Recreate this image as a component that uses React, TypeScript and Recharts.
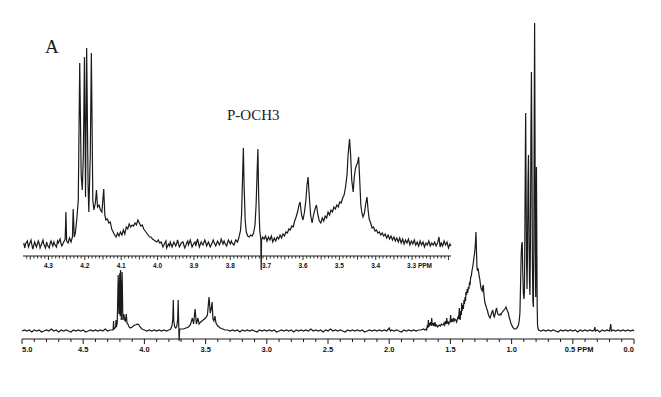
import React from "react";
import { LineChart, Line, XAxis, YAxis, ReferenceLine } from "recharts";

// ---------- Main spectrum (ppm, intensity) ----------
const MAIN_LEFT: [number, number][] = [
  [5.0, 0], [4.98, 1], [4.96, 0], [4.94, 1], [4.92, -1], [4.9, 1], [4.88, 0], [4.86, 1], [4.84, -1], [4.82, 0],
  [4.8, 1], [4.78, 0], [4.76, 2], [4.74, 0], [4.72, 1], [4.7, -1], [4.68, 1], [4.66, 0], [4.64, 1], [4.62, 0],
  [4.6, -1], [4.58, 1], [4.56, 0], [4.54, 1], [4.52, 0], [4.5, 1], [4.48, -1], [4.46, 0], [4.44, 1], [4.42, 0],
  [4.4, 1], [4.38, 0], [4.36, 1], [4.34, 0], [4.32, 2], [4.3, 0], [4.28, 1], [4.26, 1],
];
const MAIN_CH2O: [number, number][] = [
  [4.255, 2], [4.252, 10], [4.249, 2], [4.24, 3], [4.235, 4], [4.232, 11], [4.229, 4], [4.222, 8],
  [4.214, 56], [4.208, 17], [4.201, 58], [4.198, 15], [4.195, 61], [4.189, 11], [4.182, 59], [4.176, 11],
  [4.168, 17], [4.162, 11], [4.155, 10], [4.148, 17], [4.142, 8], [4.135, 7], [4.125, 4], [4.115, 3],
  [4.1, 4], [4.09, 5], [4.08, 6], [4.07, 6], [4.06, 7], [4.054, 7], [4.045, 6], [4.035, 4], [4.02, 2], [4.0, 1],
];
const MAIN_MID: [number, number][] = [
  [3.98, 0], [3.96, 1], [3.94, 0], [3.92, 1], [3.9, 0], [3.88, 1], [3.86, 0], [3.84, 1], [3.82, 0], [3.8, 1],
  [3.785, 2], [3.775, 5], [3.768, 12], [3.764, 31], [3.76, 10], [3.752, 4], [3.744, 3], [3.735, 5], [3.728, 12],
  [3.724, 31], [3.72, 8], [3.716, -10], [3.712, 2], [3.7, 2], [3.68, 2], [3.66, 3], [3.64, 4], [3.625, 6],
  [3.608, 13], [3.598, 7], [3.586, 22], [3.575, 7], [3.563, 13], [3.553, 7], [3.54, 9], [3.52, 11], [3.5, 13],
  [3.485, 16], [3.472, 34], [3.462, 18], [3.454, 22], [3.447, 29], [3.44, 12], [3.432, 10], [3.424, 15],
  [3.415, 8], [3.4, 5], [3.38, 3], [3.36, 2],
];
const MAIN_FLAT: [number, number][] = [
  [3.34, 1], [3.32, 1], [3.3, 0], [3.28, 1], [3.26, 0], [3.24, 1], [3.22, -1], [3.2, 1], [3.18, 0], [3.16, 1],
  [3.14, 0], [3.12, 1], [3.1, 0], [3.08, -1], [3.06, 1], [3.04, 0], [3.02, 1], [3.0, 0], [2.98, 1], [2.96, 0],
  [2.94, 1], [2.92, -1], [2.9, 0], [2.88, 1], [2.86, 0], [2.84, 1], [2.82, 0], [2.8, 1], [2.78, -1], [2.76, 1],
  [2.74, 0], [2.72, 1], [2.7, 0], [2.68, 1], [2.66, 0], [2.64, 2], [2.62, 0], [2.6, 1], [2.58, 0], [2.56, 1],
  [2.54, -1], [2.52, 1], [2.5, 0], [2.48, 2], [2.46, 0], [2.44, 1], [2.42, 0], [2.4, 1], [2.38, 0], [2.36, -1],
  [2.34, 1], [2.32, 0], [2.3, 1], [2.28, 0], [2.26, 1], [2.24, 0], [2.22, 1], [2.2, -1], [2.18, 0], [2.16, 1],
  [2.14, 0], [2.12, 1], [2.1, 0], [2.08, 1], [2.06, 0], [2.04, 1], [2.02, 0], [2.0, 3], [1.99, 0], [1.98, 1],
  [1.96, 0], [1.94, 1], [1.92, 0], [1.9, -1], [1.88, 1], [1.86, 0], [1.84, 1], [1.82, 0], [1.8, 1], [1.78, 0],
  [1.76, 1], [1.74, 1], [1.72, 2],
];
const MAIN_ALKYL: [number, number][] = [
  [1.71, 1], [1.7, 2], [1.694, 1], [1.688, 6], [1.684, 3], [1.68, 11], [1.676, 4], [1.671, 8], [1.667, 6],
  [1.662, 9], [1.657, 5], [1.653, 13], [1.648, 6], [1.644, 8], [1.64, 5], [1.635, 7], [1.63, 6], [1.626, 9],
  [1.62, 5], [1.612, 6], [1.605, 4], [1.598, 5], [1.59, 6], [1.582, 5], [1.574, 7], [1.566, 6], [1.558, 6],
  [1.552, 8], [1.546, 6], [1.54, 10], [1.535, 7], [1.53, 13], [1.525, 8], [1.518, 9], [1.513, 7], [1.509, 8],
  [1.503, 9], [1.498, 16], [1.494, 9], [1.488, 11], [1.482, 10], [1.476, 13], [1.47, 10], [1.463, 12],
  [1.456, 11], [1.449, 9], [1.443, 12], [1.437, 14], [1.432, 12], [1.427, 23], [1.423, 13], [1.42, 11],
  [1.415, 20], [1.41, 16], [1.408, 28], [1.404, 20], [1.399, 26], [1.394, 22], [1.389, 31], [1.385, 27],
  [1.38, 34], [1.376, 30], [1.373, 39], [1.368, 36], [1.363, 42], [1.358, 38], [1.354, 44], [1.349, 42],
  [1.344, 48], [1.339, 47], [1.334, 54], [1.329, 55], [1.324, 60], [1.318, 64], [1.313, 68], [1.307, 74],
  [1.302, 78], [1.297, 85], [1.291, 99], [1.287, 80], [1.283, 64], [1.279, 60], [1.275, 63], [1.272, 61],
  [1.268, 58], [1.264, 54], [1.26, 52], [1.256, 48], [1.252, 44], [1.248, 42], [1.244, 41], [1.24, 40],
  [1.236, 44], [1.231, 46], [1.227, 38], [1.222, 32], [1.217, 28], [1.212, 26], [1.207, 24], [1.202, 22],
  [1.198, 21], [1.193, 18], [1.188, 16], [1.182, 14], [1.176, 13], [1.171, 15], [1.166, 17], [1.16, 19],
  [1.154, 21], [1.149, 17], [1.145, 15], [1.141, 14], [1.137, 16], [1.133, 18], [1.128, 21], [1.122, 23],
  [1.117, 19], [1.112, 17], [1.107, 16], [1.1, 16], [1.094, 17], [1.088, 16], [1.081, 18], [1.075, 19],
  [1.068, 20], [1.062, 21], [1.056, 22], [1.05, 23], [1.046, 24], [1.04, 22], [1.034, 20], [1.027, 18],
  [1.02, 14], [1.013, 11], [1.006, 8], [0.999, 6], [0.992, 4], [0.985, 3], [0.978, 2], [0.972, 2], [0.965, 2],
  [0.958, 3], [0.951, 4], [0.944, 6], [0.938, 10],
];
const MAIN_CH3: [number, number][] = [
  [0.932, 18], [0.927, 45], [0.922, 75], [0.918, 86], [0.913, 89], [0.909, 60], [0.904, 38], [0.899, 32],
  [0.895, 40], [0.891, 110], [0.887, 190], [0.885, 218], [0.882, 150], [0.878, 70], [0.874, 42], [0.87, 80],
  [0.866, 150], [0.862, 176], [0.858, 110], [0.854, 50], [0.85, 36], [0.846, 90], [0.842, 200], [0.838, 259],
  [0.834, 180], [0.83, 70], [0.826, 30], [0.822, 24], [0.818, 90], [0.815, 220], [0.812, 308], [0.809, 210],
  [0.806, 80], [0.803, 34], [0.8, 100], [0.797, 164], [0.794, 90], [0.791, 25], [0.788, 6], [0.785, 3], [0.78, 1],
];
const MAIN_RIGHT: [number, number][] = [
  [0.76, 0], [0.74, 1], [0.72, 0], [0.7, 1], [0.68, 0], [0.66, 1], [0.64, 0], [0.62, -1], [0.6, 1], [0.58, 0],
  [0.56, 1], [0.54, 0], [0.52, 1], [0.5, 0], [0.48, 1], [0.46, -1], [0.44, 1], [0.42, 0], [0.4, 1], [0.38, 0],
  [0.36, 1], [0.34, 0], [0.325, 1], [0.32, 4], [0.315, 0], [0.3, 1], [0.28, -1], [0.26, 1], [0.24, 0], [0.22, 1],
  [0.2, 0], [0.19, 7], [0.185, 0], [0.17, 1], [0.15, 0], [0.13, 1], [0.11, 0], [0.09, 1], [0.07, 0], [0.05, 1],
  [0.03, 0], [0.01, 1], [0.0, 0],
];

// ---------- Inset (expanded 4.37 - 3.19 ppm) ----------
const INSET_LEFT: [number, number][] = [
  [4.368, 2], [4.365, -3], [4.363, 1], [4.358, 4], [4.355, -2], [4.353, 0], [4.348, 5], [4.345, -1],
  [4.343, -4], [4.338, 3], [4.335, 0], [4.333, -2], [4.328, 4], [4.325, 1], [4.323, -3], [4.318, 2],
  [4.315, 5], [4.313, 1], [4.308, -3], [4.305, 3], [4.303, 0], [4.298, -3], [4.295, 2], [4.293, 4],
  [4.288, -1], [4.285, 3], [4.283, 1], [4.278, -2], [4.275, 4], [4.273, 2], [4.268, 6], [4.265, 1], [4.263, -1], [4.258, 3],
];
const INSET_CH2O: [number, number][] = [
  [4.254, 6], [4.252, 33], [4.25, 4], [4.246, 2], [4.242, 7], [4.238, 3], [4.234, 8], [4.232, 36], [4.229, 8],
  [4.226, 12], [4.222, 26], [4.218, 45], [4.214, 182], [4.21, 70], [4.207, 55], [4.204, 90], [4.201, 188],
  [4.198, 48], [4.195, 197], [4.191, 60], [4.189, 33], [4.185, 90], [4.182, 192], [4.178, 45], [4.175, 35],
  [4.171, 42], [4.168, 55], [4.165, 38], [4.161, 40], [4.157, 35], [4.153, 33], [4.148, 56], [4.145, 30],
  [4.142, 25], [4.138, 26], [4.134, 22], [4.13, 23], [4.126, 16], [4.122, 13], [4.118, 10], [4.114, 8],
  [4.11, 12], [4.106, 9], [4.102, 13], [4.098, 10], [4.094, 15], [4.09, 11], [4.086, 18], [4.082, 16],
  [4.078, 21], [4.074, 18], [4.07, 20], [4.066, 19], [4.062, 22], [4.058, 20], [4.054, 25], [4.05, 22],
  [4.046, 19], [4.042, 20], [4.038, 16], [4.034, 14], [4.03, 12], [4.026, 10], [4.022, 8], [4.018, 8],
  [4.014, 6], [4.01, 5], [4.006, 4], [4.002, 3], [3.998, 5], [3.994, 2],
];
const INSET_BASE: [number, number][] = [
  [3.99, 3], [3.987, 0], [3.985, -2], [3.98, 2], [3.977, 4], [3.975, -3], [3.97, 1], [3.967, -1], [3.965, 3],
  [3.96, -2], [3.957, 1], [3.955, 3], [3.95, -1], [3.947, 2], [3.945, 5], [3.94, -2], [3.937, 0], [3.935, 2],
  [3.93, 3], [3.927, -1], [3.925, -3], [3.92, 2], [3.917, 4], [3.915, 0], [3.91, 5], [3.907, 1], [3.905, -2],
  [3.9, 2], [3.897, 3], [3.895, -1], [3.89, 6], [3.887, 1], [3.885, -2], [3.88, 3], [3.877, 1], [3.875, 0],
  [3.87, 5], [3.867, 2], [3.865, -1], [3.86, 3], [3.857, 0], [3.855, -2], [3.85, 2], [3.847, 5], [3.845, 3],
  [3.84, -1], [3.837, 2], [3.835, 4], [3.83, 0], [3.827, 3], [3.825, 6], [3.82, 1], [3.817, 4], [3.815, 2],
  [3.81, -1], [3.807, 3], [3.805, 5], [3.8, 1], [3.797, 4], [3.795, 2], [3.79, 0], [3.787, 3], [3.785, 5], [3.78, 3],
];
const INSET_OCH3: [number, number][] = [
  [3.776, 8], [3.772, 14], [3.769, 30], [3.766, 70], [3.764, 97], [3.762, 60], [3.759, 25], [3.756, 13],
  [3.752, 9], [3.748, 8], [3.744, 10], [3.74, 9], [3.736, 12], [3.732, 20], [3.729, 40], [3.726, 75],
  [3.724, 96], [3.722, 50], [3.719, 15], [3.716, 6], [3.715, -25], [3.714, 5], [3.711, 8], [3.707, 6],
  [3.703, 9], [3.699, 4], [3.695, 8], [3.691, 5], [3.687, 9], [3.683, 3], [3.679, 7], [3.675, 4], [3.671, 8],
  [3.667, 6], [3.663, 10], [3.659, 7], [3.655, 11], [3.651, 9], [3.647, 13], [3.643, 12], [3.639, 16],
];
const INSET_MULT: [number, number][] = [
  [3.635, 15], [3.631, 19], [3.627, 18], [3.623, 24], [3.619, 28], [3.615, 33], [3.611, 40], [3.608, 43],
  [3.604, 30], [3.6, 25], [3.596, 33], [3.592, 45], [3.589, 60], [3.586, 68], [3.583, 50], [3.579, 30],
  [3.575, 22], [3.571, 30], [3.567, 36], [3.563, 40], [3.559, 30], [3.555, 24], [3.551, 22], [3.547, 27],
  [3.543, 24], [3.539, 29], [3.535, 27], [3.531, 33], [3.527, 30], [3.523, 35], [3.519, 33], [3.515, 38],
  [3.511, 36], [3.507, 40], [3.503, 38], [3.499, 43], [3.495, 42], [3.491, 47], [3.487, 50], [3.483, 58],
  [3.479, 70], [3.476, 90], [3.472, 106], [3.469, 90], [3.466, 65], [3.462, 53], [3.459, 68], [3.456, 76],
  [3.453, 80], [3.45, 82], [3.447, 88], [3.444, 65], [3.441, 40], [3.438, 32], [3.435, 28], [3.431, 32],
  [3.428, 40], [3.424, 48], [3.421, 35], [3.418, 26], [3.414, 22], [3.41, 17], [3.406, 18], [3.402, 14],
];
const INSET_RIGHT: [number, number][] = [
  [3.398, 15], [3.394, 12], [3.39, 13], [3.386, 10], [3.382, 12], [3.378, 9], [3.374, 11], [3.37, 7],
  [3.366, 10], [3.362, 6], [3.358, 9], [3.354, 5], [3.35, 8], [3.346, 4], [3.342, 7], [3.338, 3], [3.334, 7],
  [3.33, 2], [3.326, 6], [3.322, 1], [3.318, 5], [3.314, 2], [3.31, 6], [3.306, 0], [3.302, 4], [3.298, 1],
  [3.294, 5], [3.29, 0], [3.286, 3], [3.282, -1], [3.278, 4], [3.274, 0], [3.27, 3], [3.266, -2], [3.262, 2],
  [3.258, 0], [3.254, 4], [3.25, -1], [3.246, 2], [3.242, 0], [3.238, 3], [3.234, -1], [3.23, 2], [3.226, 8],
  [3.223, -2], [3.22, 2], [3.216, -1], [3.212, 4], [3.208, 0], [3.204, 3], [3.2, -3], [3.196, 1], [3.193, -1],
];

// ---------- Axes ----------
const MAIN_DOMAIN: [number, number] = [0, 5];
const MAIN_TICKS = [
  5.0, 4.9, 4.8, 4.7, 4.6, 4.5, 4.4, 4.3, 4.2, 4.1, 4.0, 3.9, 3.8, 3.7, 3.6, 3.5, 3.4, 3.3, 3.2, 3.1, 3.0,
  2.9, 2.8, 2.7, 2.6, 2.5, 2.4, 2.3, 2.2, 2.1, 2.0, 1.9, 1.8, 1.7, 1.6, 1.5, 1.4, 1.3, 1.2, 1.1, 1.0,
  0.9, 0.8, 0.7, 0.6, 0.5, 0.4, 0.3, 0.2, 0.1, 0.0,
];
const MAIN_LABELS = ["5.0", "4.5", "4.0", "3.5", "3.0", "2.5", "2.0", "1.5", "1.0", "0.5", "0.0"];
const INSET_DOMAIN: [number, number] = [3.193, 4.37];
const INSET_LABELS = ["4.3", "4.2", "4.1", "4.0", "3.9", "3.8", "3.7", "3.6", "3.5", "3.4", "3.3"];
const INSET_TICKS: number[] = [];
for (let i = 436; i >= 320; i--) INSET_TICKS.push(i / 100);

const toRows = (segs: [number, number][][]) =>
  segs.flat().map(([ppm, v]) => ({ ppm, v }));

const mainData = toRows([MAIN_LEFT, MAIN_CH2O, MAIN_MID, MAIN_FLAT, MAIN_ALKYL, MAIN_CH3, MAIN_RIGHT]);
const insetData = toRows([INSET_LEFT, INSET_CH2O, INSET_BASE, INSET_OCH3, INSET_MULT, INSET_RIGHT]);

const INK = "#1a1a1a";
const TICK_FONT = "'Liberation Sans', Arial, sans-serif";

// main: plot bottom sits 8 units below the drawn axis line (room for the negative artefact)
const MAIN_AXIS_LEVEL = -8;
const MAIN_AXIS_GAP = 8;
const INSET_AXIS_LEVEL = -11;
const INSET_AXIS_GAP = 19;

const MainTick = (props: any) => {
  const { x, y, payload } = props;
  const v: number = payload.value;
  const ay = y - MAIN_AXIS_GAP;
  const s = v.toFixed(1);
  const labeled = MAIN_LABELS.includes(s);
  let anchor: "start" | "middle" | "end" = "middle";
  if (s === "5.0") anchor = "start";
  if (s === "0.0") anchor = "end";
  return (
    <g>
      <line x1={x} x2={x} y1={ay} y2={ay + (labeled ? 5 : 3)} stroke={INK} strokeWidth={1} />
      {labeled && (
        <text
          x={s === "0.5" ? x - 8 : x}
          y={ay + 13}
          textAnchor={s === "0.5" ? "start" : anchor}
          fontFamily={TICK_FONT}
          fontWeight="bold"
          fontSize={7.5}
          fill="#111"
        >
          {s === "0.5" ? "0.5 PPM" : s}
        </text>
      )}
    </g>
  );
};

const InsetTick = (props: any) => {
  const { x, y, payload } = props;
  const v: number = payload.value;
  const ay = y - INSET_AXIS_GAP;
  const hundredths = Math.round(v * 100);
  const s = (hundredths / 100).toFixed(1);
  const labeled = hundredths % 10 === 0 && INSET_LABELS.includes(s);
  const len = hundredths % 10 === 0 ? 4 : hundredths % 5 === 0 ? 3.5 : 2.5;
  return (
    <g>
      <line x1={x} x2={x} y1={ay} y2={ay + len} stroke={INK} strokeWidth={0.9} />
      {labeled && (
        <text
          x={s === "3.3" ? x - 5 : x}
          y={ay + 12}
          textAnchor={s === "3.3" ? "start" : "middle"}
          fontFamily={TICK_FONT}
          fontWeight="bold"
          fontSize={6.5}
          fill="#111"
        >
          {s === "3.3" ? "3.3 PPM" : s}
        </text>
      )}
    </g>
  );
};

export default function App() {
  return (
    <div style={{ position: "absolute", left: 0, top: 0, width: 661, height: 397, background: "#fff" }}>
      <div style={{ position: "absolute", left: 0, top: 0 }}>
        <LineChart width={661} height={397} data={mainData} margin={{ top: 19, right: 27, bottom: 20, left: 22 }}>
          <XAxis
            type="number"
            dataKey="ppm"
            domain={MAIN_DOMAIN}
            reversed
            ticks={MAIN_TICKS}
            interval={0}
            axisLine={false}
            tickLine={false}
            tickSize={0}
            tickMargin={0}
            height={30}
            tick={(p: any) => <MainTick {...p} />}
          />
          <YAxis type="number" domain={[-16, 312]} hide />
          <ReferenceLine y={MAIN_AXIS_LEVEL} stroke={INK} strokeWidth={1.1} ifOverflow="visible" />
          <Line
            type="linear"
            dataKey="v"
            stroke={INK}
            strokeWidth={1.2}
            dot={false}
            activeDot={false}
            isAnimationActive={false}
          />
        </LineChart>
      </div>
      <div style={{ position: "absolute", left: 0, top: 0 }}>
        <LineChart width={661} height={397} data={insetData} margin={{ top: 40, right: 210, bottom: 92, left: 23 }}>
          <XAxis
            type="number"
            dataKey="ppm"
            domain={INSET_DOMAIN}
            reversed
            ticks={INSET_TICKS}
            interval={0}
            axisLine={false}
            tickLine={false}
            tickSize={0}
            tickMargin={0}
            height={30}
            tick={(p: any) => <InsetTick {...p} />}
          />
          <YAxis type="number" domain={[-30, 205]} hide />
          <ReferenceLine y={INSET_AXIS_LEVEL} stroke={INK} strokeWidth={1.1} ifOverflow="visible" />
          <Line
            type="linear"
            dataKey="v"
            stroke={INK}
            strokeWidth={1.2}
            dot={false}
            activeDot={false}
            isAnimationActive={false}
          />
        </LineChart>
      </div>
      <svg width={661} height={397} style={{ position: "absolute", left: 0, top: 0, pointerEvents: "none" }}>
        <text x={45} y={53} fontFamily="'Liberation Serif', 'Times New Roman', serif" fontSize={19} fill={INK}>
          A
        </text>
        <text x={227} y={120} fontFamily="'Liberation Serif', 'Times New Roman', serif" fontSize={15} fill={INK}>
          P-OCH3
        </text>
      </svg>
    </div>
  );
}
